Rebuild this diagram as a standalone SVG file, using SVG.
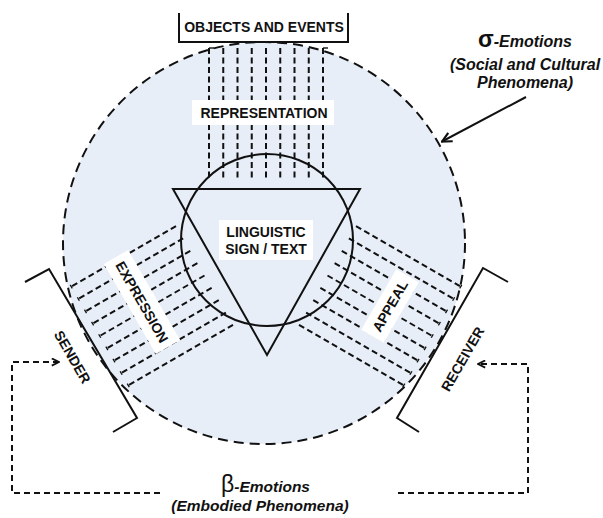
<svg xmlns="http://www.w3.org/2000/svg" width="603" height="518" viewBox="0 0 603 518">
<style>
.lbl{font-family:"Liberation Sans",Arial,sans-serif;font-weight:bold;font-size:14px;fill:#111;text-anchor:middle}
.emo{font-family:"Liberation Sans",Arial,sans-serif;font-weight:bold;font-style:italic;fill:#111;text-anchor:middle}
.solid{fill:none;stroke:#111;stroke-width:2}
.fb{fill:none;stroke:#111;stroke-width:2;stroke-dasharray:6 4}
.wbox{fill:#fff}
</style>
<defs>
<marker id="ah" viewBox="0 0 10 10" refX="9" refY="5" markerWidth="12" markerHeight="12" markerUnits="userSpaceOnUse" orient="auto">
<path d="M1,1 L9,5 L1,9" fill="none" stroke="#111" stroke-width="1.8" stroke-dasharray="none"/>
</marker>
<marker id="ahs" viewBox="0 0 10 10" refX="9" refY="5" markerWidth="9" markerHeight="9" markerUnits="userSpaceOnUse" orient="auto">
<path d="M1,1 L9,5 L1,9" fill="none" stroke="#111" stroke-width="2" stroke-dasharray="none"/>
</marker>
<g id="bandlines" stroke="#111" stroke-width="2" stroke-dasharray="6 3.5">
<line x1="209" y1="49" x2="209" y2="170"/>
<line x1="223.25" y1="49" x2="223.25" y2="170"/>
<line x1="237.5" y1="49" x2="237.5" y2="170"/>
<line x1="251.75" y1="49" x2="251.75" y2="170"/>
<line x1="266" y1="49" x2="266" y2="170"/>
<line x1="280.25" y1="49" x2="280.25" y2="170"/>
<line x1="294.5" y1="49" x2="294.5" y2="170"/>
<line x1="308.75" y1="49" x2="308.75" y2="170"/>
<line x1="323" y1="49" x2="323" y2="170"/>
</g>
<g id="bandticks" stroke="#111" stroke-width="1.3">
<line x1="207" y1="48" x2="211" y2="48"/>
<line x1="221.25" y1="48" x2="225.25" y2="48"/>
<line x1="235.5" y1="48" x2="239.5" y2="48"/>
<line x1="249.75" y1="48" x2="253.75" y2="48"/>
<line x1="264" y1="48" x2="268" y2="48"/>
<line x1="278.25" y1="48" x2="282.25" y2="48"/>
<line x1="292.5" y1="48" x2="296.5" y2="48"/>
<line x1="306.75" y1="48" x2="310.75" y2="48"/>
<line x1="321" y1="48" x2="325" y2="48"/>
</g>
</defs>

<g id="sigma-circle">
<circle cx="264" cy="243" r="201" fill="#e7eef7" stroke="#111" stroke-width="2" stroke-dasharray="10 6"/>
</g>

<g id="connectors">
<g id="representation-band" stroke="#111" stroke-width="2" stroke-dasharray="6 3.5">
<line x1="209" y1="48" x2="209" y2="178"/>
<line x1="223.25" y1="48" x2="223.25" y2="178"/>
<line x1="237.5" y1="48" x2="237.5" y2="178"/>
<line x1="251.75" y1="48" x2="251.75" y2="178"/>
<line x1="266" y1="48" x2="266" y2="178"/>
<line x1="280.25" y1="48" x2="280.25" y2="178"/>
<line x1="294.5" y1="48" x2="294.5" y2="178"/>
<line x1="308.75" y1="48" x2="308.75" y2="178"/>
<line x1="323" y1="48" x2="323" y2="178"/>
</g>
<g stroke="#111" stroke-width="1.4">
<line x1="209" y1="48" x2="214" y2="48"/>
<line x1="323" y1="48" x2="328" y2="48"/>
</g>
<g id="expression-band" transform="rotate(240 266 240)"><use href="#bandlines"/><use href="#bandticks"/></g>
<g id="appeal-band" transform="rotate(120 266 240)"><use href="#bandlines"/><use href="#bandticks"/></g>

<path class="fb" d="M160,493 H12 V362 H59" marker-end="url(#ahs)"/>
<path class="fb" d="M398,493 H528 V364 H478" marker-end="url(#ahs)"/>
<line x1="526" y1="97" x2="442" y2="141.5" stroke="#111" stroke-width="2" marker-end="url(#ah)"/>
</g>

<g id="sign">
<circle cx="267" cy="240" r="86" class="solid"/>
<polygon points="173,189 360,189 267,355" class="solid"/>
<rect x="219" y="220" width="94" height="40" class="wbox"/>
<text class="lbl" x="266" y="237">LINGUISTIC</text>
<text class="lbl" x="266" y="253.5">SIGN / TEXT</text>
</g>

<g id="objects">
<path d="M179,13 V42 H348 V13" class="solid"/>
<text class="lbl" x="264" y="31.5" font-size="14.3">OBJECTS AND EVENTS</text>
</g>

<g id="representation">
<rect x="192" y="100" width="142" height="25" class="wbox"/>
<text class="lbl" x="264" y="118">REPRESENTATION</text>
</g>

<g id="expression">
<rect x="90" y="288" width="104" height="28" class="wbox" transform="rotate(60 142 302)"/>
<text class="lbl" x="142" y="307" transform="rotate(60 142 302)">EXPRESSION</text>
</g>

<g id="appeal">
<rect x="355" y="293" width="70" height="26" class="wbox" transform="rotate(-60 390 306)"/>
<text class="lbl" x="390" y="311" transform="rotate(-60 390 306)">APPEAL</text>
</g>

<g id="sender">
<path d="M25,282 L49,269 L137,418 L113,432" class="solid"/>
<text class="lbl" x="72.5" y="362" transform="rotate(60 72.5 357)">SENDER</text>
</g>

<g id="receiver">
<path d="M508,282 L483,268 L397,418 L419,432" class="solid"/>
<text class="lbl" x="462.5" y="364" transform="rotate(-60 462.5 359)">RECEIVER</text>
</g>

<g id="sigma-label">
<text class="emo" x="525" y="47" font-size="16"><tspan font-size="23" font-style="normal">σ</tspan>-Emotions</text>
<text class="emo" x="525" y="69.5" font-size="16">(Social and Cultural</text>
<text class="emo" x="525" y="88" font-size="16">Phenomena)</text>
</g>

<g id="beta-label">
<text class="emo" x="265.5" y="492" font-size="15.5"><tspan font-size="23" font-weight="normal" font-style="normal">β</tspan>-Emotions</text>
<text class="emo" x="260" y="511" font-size="15.5">(Embodied Phenomena)</text>
</g>
</svg>
